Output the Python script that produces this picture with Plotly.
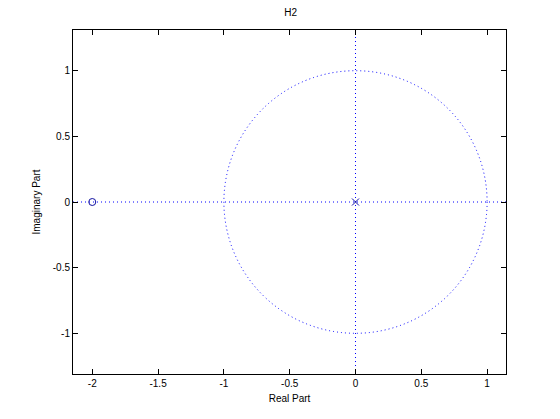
import plotly.graph_objects as go

zeros_re = [-2.0]
zeros_im = [0.0]
poles_re = [0.0]
poles_im = [0.0]
x_ticks = [-2, -1.5, -1, -0.5, 0, 0.5, 1]
y_ticks = [-1, -0.5, 0, 0.5, 1]
x_range = [-2.1465, 1.1435]
y_range = [-1.31, 1.31]
blue = "#0000ff"

fig = go.Figure()

dot = dict(color=blue, width=1, dash="1px,3px")
fig.add_shape(type="circle", xref="x", yref="y", x0=-1, x1=1, y0=-1, y1=1, line=dot, layer="below")
fig.add_shape(type="line", xref="x domain", yref="y", x0=0, x1=1, y0=0, y1=0, line=dot, layer="below")
fig.add_shape(type="line", xref="x", yref="y domain", x0=0, x1=0, y0=0, y1=1, line=dot, layer="below")

fig.add_trace(go.Scatter(x=zeros_re, y=zeros_im, mode="markers",
                         marker=dict(symbol="circle-open", size=7, color="#1010a0", line=dict(width=1, color="#1010a0")),
                         showlegend=False))
fig.add_trace(go.Scatter(x=poles_re, y=poles_im, mode="markers",
                         marker=dict(symbol="x-thin-open", size=7, color="#1010a0", line=dict(width=1, color="#1010a0")),
                         showlegend=False))

font = dict(family="Liberation Sans, Arial", size=10, color="black")
axis_common = dict(showgrid=False, zeroline=False, showline=True, linecolor="black", linewidth=1,
                   mirror="ticks", ticks="inside", ticklen=5, tickcolor="black", tickfont=font)
fig.update_xaxes(range=x_range, tickvals=x_ticks, ticktext=[str(v) for v in x_ticks],
                 title=dict(text="Real Part", font=font, standoff=6), **axis_common)
fig.update_yaxes(range=y_range, tickvals=y_ticks, ticktext=[str(v) for v in y_ticks],
                 title=dict(text="Imaginary Part", font=font, standoff=10), **axis_common)

fig.update_layout(
    width=560, height=419,
    margin=dict(l=65, r=62, t=22, b=53, autoexpand=False),
    plot_bgcolor="white", paper_bgcolor="white",
    title=dict(text="H2", x=(65 + 433 / 2) / 560, xanchor="center", xref="paper", y=1 - 4 / 419, yanchor="middle",
               font=font),
)
fig.write_html("out.html")
